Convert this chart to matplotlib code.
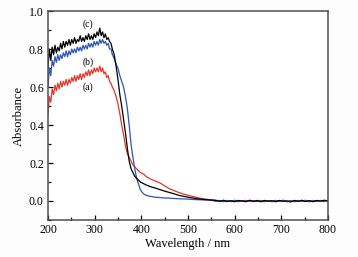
import matplotlib
matplotlib.use("Agg")
import matplotlib.pyplot as plt
from matplotlib.ticker import MultipleLocator

plt.rcParams['font.family'] = ['Liberation Serif', 'DejaVu Serif']

wavelength = (list(range(200, 339, 3)) + list(range(342, 411, 4))
              + list(range(420, 551, 10)) + list(range(560, 801, 8)))

abs_c = [0.70, 0.80, 0.74, 0.81, 0.77, 0.82, 0.78, 0.81, 0.79, 0.83, 0.80, 0.84, 0.81, 0.84, 0.82, 0.85,
         0.82, 0.85, 0.83, 0.86, 0.83, 0.85, 0.84, 0.87, 0.84, 0.86, 0.84, 0.87, 0.85, 0.88, 0.85, 0.87,
         0.85, 0.88, 0.86, 0.89, 0.87, 0.91, 0.87, 0.89, 0.86, 0.88, 0.85, 0.86, 0.84, 0.83, 0.80,
         0.77, 0.71, 0.64, 0.56, 0.50, 0.43, 0.36, 0.28, 0.21, 0.17, 0.15, 0.13, 0.12, 0.11, 0.10, 0.095, 0.09, 0.085,
         0.075, 0.068, 0.06, 0.052, 0.045, 0.038, 0.03, 0.025, 0.02, 0.016, 0.012, 0.009, 0.007, 0.005,
         0.003, -0.002, 0.004, -0.003, 0.002, -0.004, 0.003, 0.0, -0.003, 0.004, -0.002, 0.002, -0.004, 0.003,
         -0.001, 0.002, -0.004, 0.003, -0.002, 0.001, -0.005, 0.003, -0.002, 0.004, -0.003, 0.002, -0.004,
         0.003, -0.001, 0.004, 0.001]

abs_b = [0.60, 0.70, 0.66, 0.74, 0.71, 0.76, 0.73, 0.77, 0.74, 0.77, 0.75, 0.78, 0.76, 0.79, 0.76, 0.79,
         0.77, 0.80, 0.78, 0.80, 0.78, 0.81, 0.79, 0.81, 0.79, 0.82, 0.80, 0.82, 0.80, 0.83, 0.81, 0.83,
         0.81, 0.84, 0.82, 0.84, 0.82, 0.85, 0.83, 0.85, 0.83, 0.84, 0.82, 0.83, 0.80, 0.80, 0.77,
         0.75, 0.72, 0.70, 0.66, 0.63, 0.60, 0.55, 0.49, 0.40, 0.30, 0.23, 0.17, 0.12, 0.09, 0.06, 0.045, 0.035, 0.03,
         0.024, 0.02, 0.018, 0.016, 0.015, 0.013, 0.012, 0.011, 0.01, 0.008, 0.007, 0.006, 0.005, 0.004,
         -0.002, 0.003, -0.004, 0.002, -0.003, 0.004, -0.002, 0.001, -0.004, 0.002, -0.003, 0.003, -0.001, -0.004,
         0.002, -0.003, 0.003, -0.002, 0.004, -0.004, 0.002, -0.003, 0.001, -0.002, 0.004, -0.004, 0.002,
         -0.001, 0.003, -0.003, 0.002]

abs_a = [0.45, 0.55, 0.52, 0.59, 0.56, 0.61, 0.58, 0.62, 0.59, 0.63, 0.60, 0.63, 0.61, 0.64, 0.61, 0.64,
         0.62, 0.65, 0.63, 0.66, 0.63, 0.66, 0.64, 0.67, 0.64, 0.67, 0.65, 0.68, 0.66, 0.69, 0.66, 0.69,
         0.67, 0.70, 0.68, 0.70, 0.68, 0.71, 0.68, 0.70, 0.67, 0.68, 0.65, 0.66, 0.63, 0.62, 0.60,
         0.58, 0.55, 0.51, 0.46, 0.40, 0.35, 0.29, 0.25, 0.23, 0.21, 0.19, 0.18, 0.17, 0.16, 0.15, 0.145, 0.14, 0.13,
         0.115, 0.105, 0.095, 0.08, 0.065, 0.055, 0.045, 0.037, 0.03, 0.024, 0.018, 0.013, 0.009, 0.006,
         0.004, 0.001, -0.002, 0.003, -0.003, 0.002, -0.004, 0.001, 0.003, -0.002, 0.002, -0.003, 0.003, -0.001,
         0.002, -0.004, 0.002, -0.001, 0.003, -0.003, 0.001, -0.004, 0.003, -0.002, 0.002, -0.003, 0.003,
         -0.002, 0.001, -0.003, 0.002]

series_labels = ['(a)', '(b)', '(c)']
label_pos_x = [286, 286, 286]
label_pos_y = [0.60, 0.73, 0.93]

fig = plt.figure(figsize=(3.58, 2.57), dpi=100)
fig.patch.set_facecolor('#fdfdfd')
ax = fig.add_axes([0.134, 0.144, 0.782, 0.813])
ax.set_facecolor('white')

ax.plot(wavelength, abs_a, color='#e8342a', lw=0.9)
ax.plot(wavelength, abs_b, color='#2d55b2', lw=0.9)
ax.plot(wavelength, abs_c, color='black', lw=0.9)

for lab, x, y in zip(series_labels, label_pos_x, label_pos_y):
    ax.text(x, y, lab, fontsize=7, ha='center', va='center')

ax.set_xlim(200, 800)
ax.set_ylim(-0.1, 1.0)
ax.xaxis.set_major_locator(MultipleLocator(100))
ax.xaxis.set_minor_locator(MultipleLocator(50))
ax.yaxis.set_minor_locator(MultipleLocator(0.1))
ax.set_yticks([0.0, 0.2, 0.4, 0.6, 0.8, 1.0])
ax.set_yticklabels(['0.0', '0.2', '0.4', '0.6', '0.8', '1.0'])
ax.tick_params(which='both', direction='in', top=False, right=False, labelsize=8.5, colors='black', pad=3)
ax.tick_params(which='major', length=3.5, width=0.9)
ax.tick_params(which='minor', length=2, width=0.9)
for s in ax.spines.values():
    s.set_color('#505050')
    s.set_linewidth(1.1)

ax.set_xlabel('Wavelength / nm', fontsize=9, labelpad=1)
ax.set_ylabel('Absorbance', fontsize=9, labelpad=3)

fig.savefig('out.png', dpi=100, facecolor=fig.get_facecolor())
